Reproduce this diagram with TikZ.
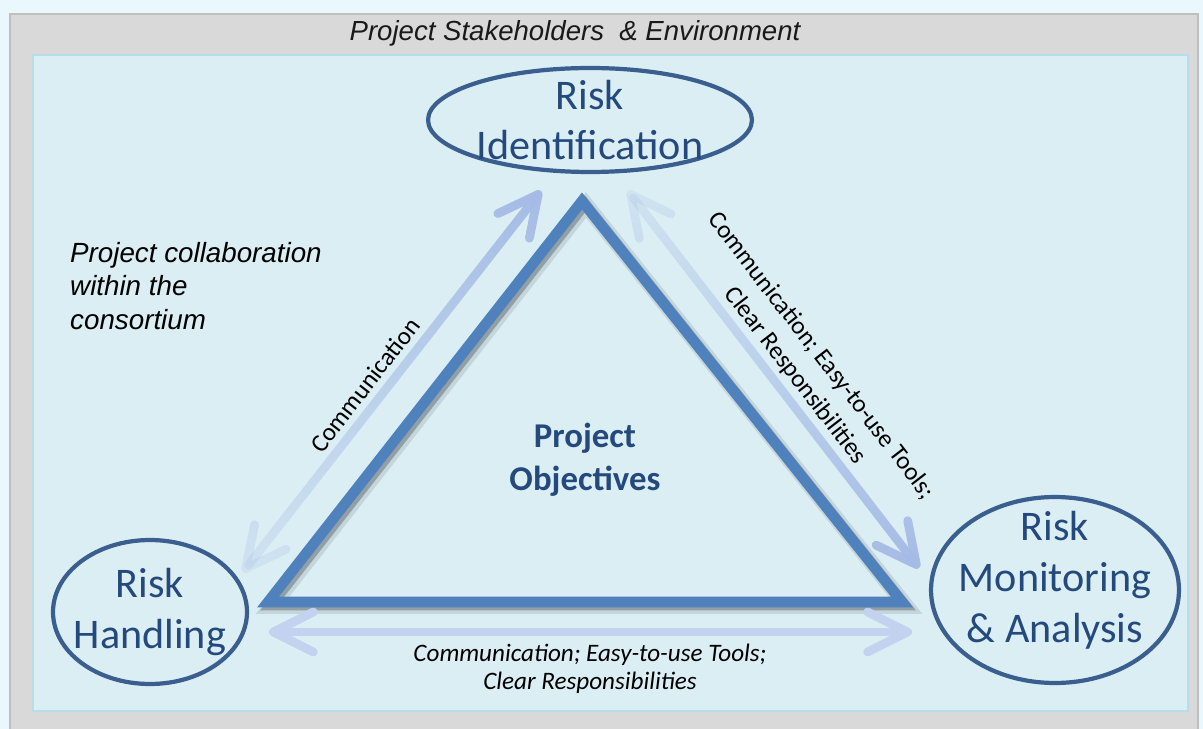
\documentclass[tikz,border=0pt]{standalone}
\usepackage{fontspec}
\setmainfont{Carlito}
\newfontfamily\arialfont{Liberation Sans}
\usepackage{tikz}
\usetikzlibrary{shapes.geometric, arrows.meta, positioning, fadings}
\usepackage{xcolor}

\definecolor{skyBg}{HTML}{EAF8FD}
\definecolor{frameGray}{HTML}{D9D9D9}
\definecolor{frameEdge}{HTML}{BFBFBF}
\definecolor{paleBlue}{HTML}{DBEEF4}
\definecolor{paleEdge}{HTML}{B7DEE8}
\definecolor{triBlue}{HTML}{4F81BD}
\definecolor{ringBlue}{HTML}{3A5F8F}
\definecolor{textBlue}{HTML}{24497C}
\definecolor{flowBlue}{HTML}{A5BBE5}
\definecolor{flowPale}{HTML}{C3D2EE}

\tikzfading[name=fadebottom, top color=transparent!0, bottom color=transparent!80]
\tikzfading[name=fadetop, top color=transparent!80, bottom color=transparent!0]

\begin{document}
\begin{tikzpicture}[
        x=0.02cm, y=-0.02cm,
        ring/.style={
          ellipse,
          draw=ringBlue,
          line width=2.4pt,
          inner sep=0pt
        },
        ringtext/.style={
          text=textBlue,
          align=center,
          font=\fontsize{24}{29}\selectfont
        },
        flow/.style={
          line width=5pt,
          line cap=round,
          {Straight Barb[length=8mm, width=8mm, round]}-{Straight Barb[length=8mm, width=8mm, round]}
        },
        note/.style={
          align=center,
          font=\fontsize{14.3}{16.5}\selectfont
        },
        edge/.style={
          line width=6pt,
          draw=triBlue,
          line join=miter
        }
      ]
      \useasboundingbox (0,0) rectangle (1203,729);

      % Background
      \fill[skyBg] (0,0) rectangle (1203,729);
      \draw[frameEdge, line width=1.5pt, fill=frameGray] (10,14) rectangle (1198,745);
      \draw[paleEdge, line width=1.5pt, fill=paleBlue] (33,55) rectangle (1188,711);
      \node[font=\arialfont\itshape\fontsize{15.7}{19}\selectfont, text=black!90] (env) at (575,33) {Project Stakeholders\ \ \& Environment};

      % Triangle
      \coordinate (apex) at (582,201);
      \coordinate (left) at (268,602);
      \coordinate (right) at (902,602);
      \draw[edge, draw=black, opacity=0.10, line width=9pt, transform canvas={shift={(4,4)}}] (apex) -- (left) -- (right) -- cycle;
      \draw[edge, draw=black, opacity=0.25, transform canvas={shift={(3,3)}}] (apex) -- (left) -- (right) -- cycle;
      \draw[edge] (apex) -- (left) -- (right) -- cycle;
      \node[font=\bfseries\fontsize{19.8}{24.4}\selectfont, text=textBlue, align=center] (goal) at (585,460) {Project\\Objectives};

      % Entities
      \node[ring, minimum width=6.48cm, minimum height=2.08cm] (riskid) at (590,120) {};
      \node[ring, minimum width=3.88cm, minimum height=2.88cm] (riskhand) at (150,612) {};
      \node[ring, minimum width=4.96cm, minimum height=3.72cm] (riskmon) at (1055,590) {};
      \node[ringtext] (riskid-txt) at (riskid) {Risk\\Identification};
      \node[ringtext] (riskhand-txt) at (riskhand) {Risk\\Handling};
      \node[ringtext] (riskmon-txt) at (1055,580) {Risk\\Monitoring\\\& Analysis};

      % Arrow ends
      \coordinate (hand-up) at (243,572);
      \coordinate (id-left) at (541,191);
      \coordinate (id-right) at (628,191);
      \coordinate (mon-up) at (919,568);
      \coordinate (hand-right) at (269,632);
      \coordinate (mon-left) at (912,632);

      % Flows
      \draw[flow, draw=flowBlue, path fading=fadebottom] (hand-up) -- (id-left);
      \draw[flow, draw=flowBlue, path fading=fadetop] (id-right) -- (mon-up);
      \draw[flow, draw=flowPale] (hand-right) -- (mon-left);

      % Flow labels
      \node[note, rotate=52.3] (lbl-left) at (365,385) {Communication};
      \node[note, rotate=-52.3, font=\fontsize{14.3}{18.5}\selectfont] (lbl-right) at (808,366) {Communication; Easy-to-use Tools;\\Clear Responsibilities};
      \node[note, font=\itshape\fontsize{14.3}{16}\selectfont] (lbl-bottom) at (590,669) {Communication; Easy-to-use Tools;\\Clear Responsibilities};

      \node[anchor=west, align=left, font=\arialfont\itshape\fontsize{15.8}{19.3}\selectfont] (collab) at (64,286) {Project collaboration\\within the\\consortium};

    \end{tikzpicture}
\end{document}
